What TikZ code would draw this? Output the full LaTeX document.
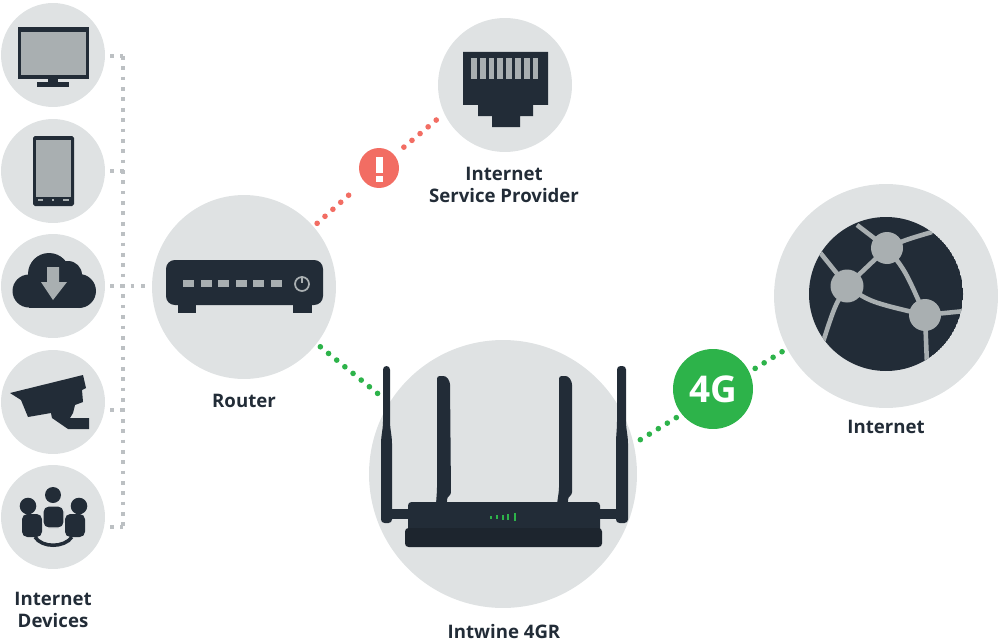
\documentclass[tikz,border=0pt]{standalone}
\usepackage{fontspec}
\setmainfont{Open Sans}
\usetikzlibrary{positioning}
\definecolor{disc}{HTML}{DFE2E3}
\definecolor{ink}{HTML}{222C37}
\definecolor{inklow}{HTML}{1D252E}
\definecolor{pale}{HTML}{A9AFB1}
\definecolor{busgrey}{HTML}{BCC0C3}
\definecolor{alarm}{HTML}{F26D63}
\definecolor{good}{HTML}{2DB34A}
\tikzset{
    disc/.style={circle, fill=disc, inner sep=0pt, outer sep=0pt},
    badge/.style={circle, inner sep=0pt, outer sep=0pt, text=white},
    caption/.style={inner sep=0pt, align=center, text=ink, font=\bfseries\fontsize{10.6}{13}\selectfont},
    busline/.style={draw=busgrey, line width=2.1pt, dash pattern=on 2.1pt off 3.8pt},
    reddots/.style={draw=alarm, line width=3.2pt, line cap=round, dash pattern=on 0pt off 6pt},
    greendots/.style={draw=good, line width=3.2pt, line cap=round, dash pattern=on 0pt off 6pt},
    darkpart/.style={fill=ink},
    palepart/.style={fill=pale},
}

\begin{document}
\begin{tikzpicture}[x=0.02cm, y=-0.02cm]
    \useasboundingbox (0,0) rectangle (1000,642);

    % discs
    \node[disc, minimum size=2.08cm] (tv) at (53,55) {};
    \node[disc, minimum size=2.08cm] (tablet) at (53,171) {};
    \node[disc, minimum size=2.08cm] (cloud) at (53,286) {};
    \node[disc, minimum size=2.08cm] (camera) at (53,402) {};
    \node[disc, minimum size=2.08cm] (people) at (53,517) {};
    \node[disc, minimum size=3.68cm] (router) at (244,287) {};
    \node[disc, minimum size=2.68cm] (isp) at (505,85) {};
    \node[disc, minimum size=5.36cm] (intwine) at (503,474) {};
    \node[disc, minimum size=4.48cm] (internet) at (886,296) {};
    \node[badge, fill=alarm, minimum size=0.8cm] (alert) at (379,168) {};
    \node[badge, fill=good, minimum size=1.6cm, font=\bfseries\fontsize{21}{21}\selectfont] (fourg) at (713,389) {4G};

    % captions
    \node[caption] (devicestext) at (53,610) {Internet\\Devices};
    \node[caption] (routertext) at (244,401) {Router};
    \node[caption] (isptext) at (504,185) {Internet\\Service Provider};
    \node[caption] (intwinetext) at (504,632) {Intwine 4GR};
    \node[caption] (internettext) at (886,427) {Internet};

    % device bus
    \coordinate (bustop) at (123,56);
    \coordinate (busbottom) at (123,527);
    \coordinate (tvend) at (110,56);
    \coordinate (tabletend) at (110,171);
    \coordinate (tabletbus) at (125,171);
    \coordinate (cloudend) at (110,286);
    \coordinate (routerend) at (147,286);
    \coordinate (cameraend) at (110,410);
    \coordinate (camerabus) at (125,410);
    \coordinate (peopleend) at (110,527);
    \draw[busline] (bustop) to (busbottom);
    \draw[busline] (tvend) to (bustop);
    \draw[busline] (tabletend) to (tabletbus);
    \draw[busline] (cloudend) to (routerend);
    \draw[busline] (cameraend) to (camerabus);
    \draw[busline] (peopleend) to (busbottom);

    % links
    \draw[reddots, shorten <=0.1cm, shorten >=0.3cm] (router.41) to (alert.222);
    \draw[reddots, shorten <=0.25cm] (alert.40) to (isp.205);
    \draw[greendots, shorten <=0.1cm, shorten >=0.2cm] (router.-38) to (intwine.148);
    \draw[greendots, shorten <=0.16cm, shorten >=0.1cm] (intwine.13) to (fourg.219);
    \draw[greendots, shorten <=0.14cm, shorten >=0.08cm] (fourg.25) to (internet.208);

    % tv
    \fill[darkpart] (18,27) rectangle (89,79);
    \fill[palepart] (21,32) rectangle (86,75.5);
    \fill[darkpart] (48,79) rectangle (58,83);
    \fill[darkpart] (37,82) rectangle (69,87);

    % tablet
    \fill[darkpart, rounded corners=1pt] (33,136) rectangle (74,206);
    \fill[palepart] (36,140) rectangle (71,197);
    \fill[palepart] (38,199) rectangle (43,201);
    \fill[palepart] (52,199) rectangle (54,201);
    \fill[palepart] (63,199) rectangle (69,201);

    % cloud
    \fill[darkpart] (49,274) circle (21);
    \fill[darkpart] (29,291) circle (16.5);
    \fill[darkpart] (79,291) circle (17);
    \fill[darkpart] (68,275) circle (14);
    \fill[darkpart] (29,285) rectangle (79,308);
    \fill[palepart] (47,267) -- (59,267) -- (59,282) -- (67,282) -- (53,300) -- (41,282) -- (47,282) -- cycle;

    % camera
    \fill[darkpart] (10,393) -- (83,375) -- (86,388) -- (82,390) -- (83,402) -- (75,405) -- (73,413)
        -- (70,418) -- (89,418) -- (89,429) -- (68,429) -- (52,418) -- (51,413) -- (28,417) -- (21,400) -- cycle;

    % people
    \draw[ink, line width=2pt] (35,537) .. controls (42,548) and (64,548) .. (72,537);
    \fill[darkpart] (53,495) circle (8);
    \fill[darkpart] (28,506) circle (8.3);
    \fill[darkpart] (79,506) circle (8.3);
    \fill[darkpart, rounded corners=3pt] (22,514) rectangle (42,537);
    \fill[darkpart, rounded corners=3pt] (65,514) rectangle (85,537);
    \filldraw[draw=disc, fill=ink, line width=0.7pt, rounded corners=3pt] (43,506) rectangle (64,528);

    % router
    \fill[darkpart, rounded corners=5pt] (166,260) rectangle (323,305);
    \fill[darkpart] (178,304) rectangle (196,313);
    \fill[darkpart] (293,304) rectangle (312,313);
    \foreach \ledx in {183,200.5,218,235.5,253,271}
        \fill[palepart] (\ledx,280) rectangle ++(11,7);
    \draw[pale, line width=1pt] (302,284) circle (7);
    \draw[pale, line width=1.2pt] (302,276) -- (302,283);

    % jack
    \fill[darkpart] (463,52) -- (548,52) -- (548,105) -- (533,105) -- (533,116) -- (520,116) -- (520,127)
        -- (492,127) -- (492,116) -- (478,116) -- (478,105) -- (463,105) -- cycle;
    \foreach \pin in {0,...,7}
        \fill[palepart] (471+8.8*\pin,58) rectangle ++(5.8,21);

    % alert mark
    \fill[white] (376,157) rectangle (383,173);
    \fill[white] (376,176) rectangle (383,182);

    % globe
    \begin{scope}
        \clip (886,294) circle (77);
        \fill[darkpart] (886,294) circle (77);
        \draw[pale, line width=2.6pt] (887,248) -- (857,225);
        \draw[pale, line width=2.6pt] (887,248) .. controls (905,240) .. (932,232);
        \draw[pale, line width=2.6pt] (847,286) -- (818,250);
        \draw[pale, line width=2.6pt] (847,286) .. controls (835,305) .. (822,345);
        \draw[pale, line width=2.6pt] (847,286) -- (887,248);
        \draw[pale, line width=2.6pt] (887,248) .. controls (905,270) .. (925,315);
        \draw[pale, line width=2.6pt] (847,286) .. controls (870,302) .. (925,315);
        \draw[pale, line width=2.6pt] (925,315) -- (965,311);
        \draw[pale, line width=2.6pt] (925,315) -- (927,365);
        \fill[palepart] (887,248) circle (16);
        \fill[palepart] (847,286) circle (16.5);
        \fill[palepart] (925,315) circle (16);
    \end{scope}

    % 4g router
    \fill[darkpart] (392,509) rectangle (410,519);
    \fill[darkpart] (598,509) rectangle (618,519);
    \fill[darkpart, rounded corners=2pt] (383,366) -- (390,366) -- (390,425) -- (392,440) -- (392,523)
        -- (381,523) -- (381,440) -- (383,425) -- cycle;
    \fill[darkpart, rounded corners=2pt] (617,366) -- (626,366) -- (626,425) -- (628,440) -- (628,523)
        -- (616,523) -- (616,440) -- (617,425) -- cycle;
    \fill[darkpart, rounded corners=1.5pt] (437,376) -- (446,376) -- (450,382) -- (451,495) -- (447,497)
        -- (447,504) -- (436,504) -- (437,490) -- cycle;
    \fill[darkpart, rounded corners=1.5pt] (559,376) -- (568,376) -- (572,382) -- (572,495) -- (568,497)
        -- (568,504) -- (557,504) -- (559,490) -- cycle;
    \fill[fill=ink, rounded corners=2pt] (408,502) rectangle (600,535);
    \fill[fill=inklow, rounded corners=2pt] (405,528) rectangle (602,547);
    \foreach \barx/\barh in {491/1.5,497/2,503/2.5,508/3,515/4}
        \fill[good] (\barx-1.3,517-\barh) rectangle (\barx+1.3,517+\barh);
\end{tikzpicture}
\end{document}
